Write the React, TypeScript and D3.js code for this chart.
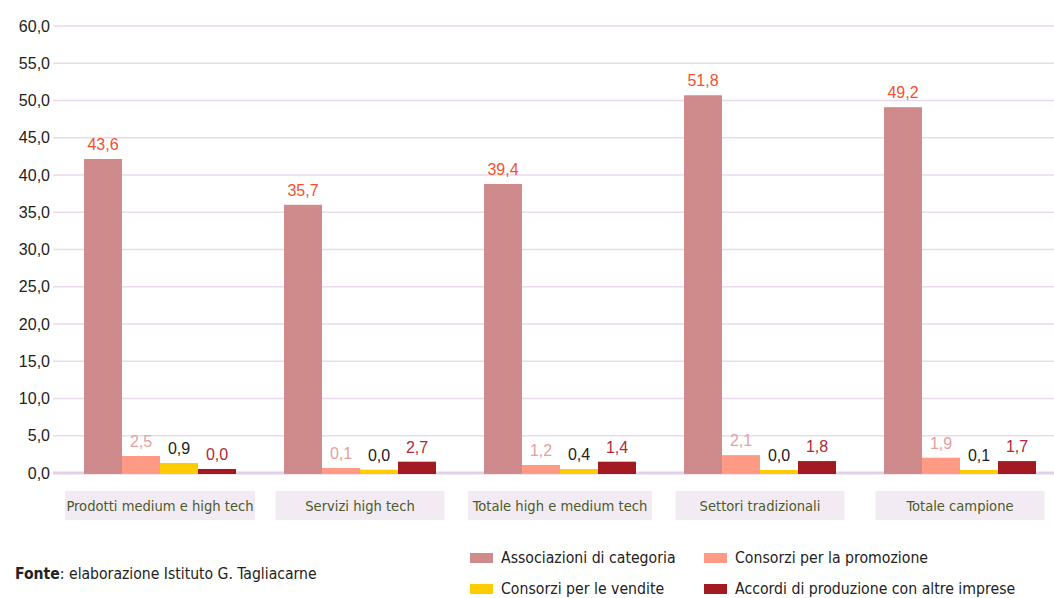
import React from "react";
import * as d3 from "d3";

const categories = [
  "Prodotti medium e high tech",
  "Servizi high tech",
  "Totale high e medium tech",
  "Settori tradizionali",
  "Totale campione",
];
const seriesNames = [
  "Associazioni di categoria",
  "Consorzi per la promozione",
  "Consorzi per le vendite",
  "Accordi di produzione con altre imprese",
];
// bar heights as drawn in the picture
const associazioni = [42.15, 36.0, 38.8, 50.7, 49.1];
const promozione = [2.28, 0.67, 1.07, 2.4, 2.05];
const vendite = [1.34, 0.44, 0.54, 0.4, 0.4];
const accordi = [0.54, 1.52, 1.52, 1.6, 1.6];
// printed value labels
const labAssociazioni = ["43,6", "35,7", "39,4", "51,8", "49,2"];
const labPromozione = ["2,5", "0,1", "1,2", "2,1", "1,9"];
const labVendite = ["0,9", "0,0", "0,4", "0,0", "0,1"];
const labAccordi = ["0,0", "2,7", "1,4", "1,8", "1,7"];
const yTicks = [0, 5, 10, 15, 20, 25, 30, 35, 40, 45, 50, 55, 60];

const barColors = ["#cf8a8c", "#ff9a85", "#ffcc00", "#a31a22"];
const labelColors = ["#f5502e", "#e6a0a0", "#222222", "#b02a35"];
const narrow = "'Liberation Sans Narrow', 'DejaVu Sans Condensed', 'Roboto Condensed', sans-serif";
const regular = "'Liberation Sans', Arial, sans-serif";

export default function App() {
  const W = 1054, H = 598;
  const series = [associazioni, promozione, vendite, accordi];
  const labels = [labAssociazioni, labPromozione, labVendite, labAccordi];
  const y = d3.scaleLinear().domain([0, 60]).range([473, 26]);
  const x0 = d3.scaleBand<string>().domain(categories).range([60, 1060]).paddingInner(0).paddingOuter(0);
  const barW = 38;
  const groupW = barW * 4;
  const x1 = d3.scaleBand<number>().domain([0, 1, 2, 3]).range([0, groupW]);
  const groupStart = (c: string) => (x0(c) as number) + (x0.bandwidth() - groupW) / 2;
  const fmt = (v: number) => d3.format(".1f")(v).replace(".", ",");
  const catWidth = [190, 169, 184, 169, 169];

  return (
    <svg width={W} height={H} style={{ position: "absolute", left: 0, top: 0, background: "#fff" }}>
      {yTicks.map((t) => (
        <g key={t}>
          <line x1={53} x2={W} y1={y(t)} y2={y(t)} stroke={t === 0 ? "#e2d0e6" : "#e8dbec"} strokeWidth={t === 0 ? 3 : 1.5} />
          <text x={50} y={y(t)} dy="0.35em" textAnchor="end" fontFamily={regular} fontSize={16} fill="#222">
            {fmt(t)}
          </text>
        </g>
      ))}
      {categories.map((c, ci) => (
        <g key={c}>
          {series.map((s, si) => {
            const bx = groupStart(c) + (x1(si) as number);
            const top = y(s[ci]);
            return (
              <g key={si}>
                <rect x={bx} y={top} width={barW} height={474 - top} fill={barColors[si]} />
                <text x={bx + barW / 2} y={top - 9} textAnchor="middle" fontFamily={regular} fontSize={16} fill={labelColors[si]}>
                  {labels[si][ci]}
                </text>
              </g>
            );
          })}
          <rect x={(x0(c) as number) + x0.bandwidth() / 2 - catWidth[ci] / 2} y={491} width={catWidth[ci]} height={29} fill="#f3ebf4" />
          <text x={(x0(c) as number) + x0.bandwidth() / 2} y={506} dy="0.35em" textAnchor="middle" fontFamily={narrow} fontSize={14.6} fill="#4b5a2b">
            {c}
          </text>
        </g>
      ))}
      <text x={15} y={574} dy="0.35em" fontFamily={narrow} fontSize={15.6} fill="#222">
        <tspan fontWeight="bold">Fonte</tspan>: elaborazione Istituto G. Tagliacarne
      </text>
      {seriesNames.map((n, i) => {
        const lx = i % 2 === 0 ? 470 : 704;
        const ly = i < 2 ? 558 : 589;
        return (
          <g key={n}>
            <rect x={lx} y={ly - 5} width={23} height={10} fill={barColors[i]} />
            <text x={lx + 31} y={ly} dy="0.35em" fontFamily={narrow} fontSize={15.7} fill="#222">
              {n}
            </text>
          </g>
        );
      })}
    </svg>
  );
}
